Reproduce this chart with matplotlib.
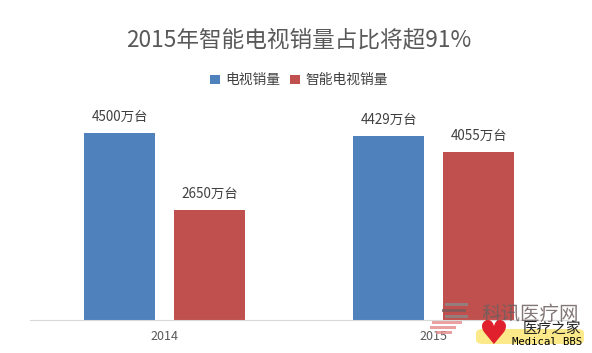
import matplotlib
matplotlib.use('Agg')
import matplotlib.pyplot as plt
from matplotlib.patches import FancyBboxPatch, Rectangle

plt.rcParams['font.family'] = ['Noto Sans CJK SC', 'DejaVu Sans']

years = ['2014', '2015']
tv_sales = [4500, 4429]
smart_sales = [2650, 4055]
series_names = ['电视销量', '智能电视销量']
colors = ['#4f81bd', '#c0504d']
text_color = '#595959'

fig = plt.figure(figsize=(5.92, 3.53), dpi=100)
ax = fig.add_axes([0.0, 0.093, 1.0, 0.53])

x = [0, 1]
w = 0.264
bars1 = ax.bar([i - 0.167 for i in x], tv_sales, w, color=colors[0], label=series_names[0])
bars2 = ax.bar([i + 0.167 for i in x], smart_sales, w, color=colors[1], label=series_names[1])

for bars, vals in [(bars1, tv_sales), (bars2, smart_sales)]:
    for b, v in zip(bars, vals):
        ax.annotate(f'{v}万台', (b.get_x() + b.get_width() / 2, v), xytext=(0, 6.5),
                    textcoords='offset points', ha='center', va='bottom',
                    fontsize=9.7, color='#404040')

ax.set_xlim(-0.612, 1.588)
ax.set_ylim(0, 4500)
ax.set_xticks(x)
ax.set_xticklabels(years, fontsize=9, color=text_color)
ax.set_yticks([])
ax.tick_params(axis='x', length=0, pad=7)
for s in ['top', 'left', 'right']:
    ax.spines[s].set_visible(False)
ax.spines['bottom'].set_color('#d9d9d9')
ax.spines['bottom'].set_bounds(-0.5, 1.5)

fig.text(0.505, 0.887, '2015年智能电视销量占比将超91%', ha='center', va='center',
         fontsize=16.3, color=text_color)
fig.legend(loc='center', bbox_to_anchor=(0.505, 0.773), ncol=2, frameon=False, fontsize=9.9,
           labelcolor='#404040', handlelength=0.7, handleheight=0.7, handletextpad=0.4,
           columnspacing=0.7)

# watermark, pixel positions from the top-left corner
W, H = 592.0, 353.0
pill = FancyBboxPatch((476 / W, 1 - 344 / H), 108 / W, 15 / H,
                      boxstyle='round,pad=0,rounding_size=0.012',
                      transform=fig.transFigure, facecolor='#fbe98a', edgecolor='none', zorder=5)
fig.add_artist(pill)
for y0, x0, x1, c in [(306, 445, 468, '#8a8a8a'), (312, 442, 466, '#7a5a5a'), (318, 445, 468, '#8a8a8a'),
                      (324, 432, 462, '#e58a8a'), (329, 430, 456, '#e58a8a'), (334, 436, 452, '#e58a8a')]:
    fig.add_artist(Rectangle((x0 / W, 1 - y0 / H), (x1 - x0) / W, 3 / H, transform=fig.transFigure,
                             facecolor=c, edgecolor='none', alpha=0.8, zorder=6))
fig.text(530 / W, 1 - 314 / H, '科讯医疗网', ha='center', va='center', fontsize=14,
         color='#6e5f5f', alpha=0.85, zorder=7)
fig.text(493 / W, 1 - 335 / H, '♥', ha='center', va='center', fontsize=24, color='#e0202c',
         family='DejaVu Sans', zorder=8)
fig.text(552 / W, 1 - 330 / H, '医疗之家', ha='center', va='center', fontsize=10.5,
         color='#222222', zorder=8)
fig.text(547 / W, 1 - 342 / H, 'Medical BBS', ha='center', va='center', fontsize=7.7,
         color='black', family='DejaVu Sans Mono', zorder=8)

fig.savefig('out.png', dpi=100)
